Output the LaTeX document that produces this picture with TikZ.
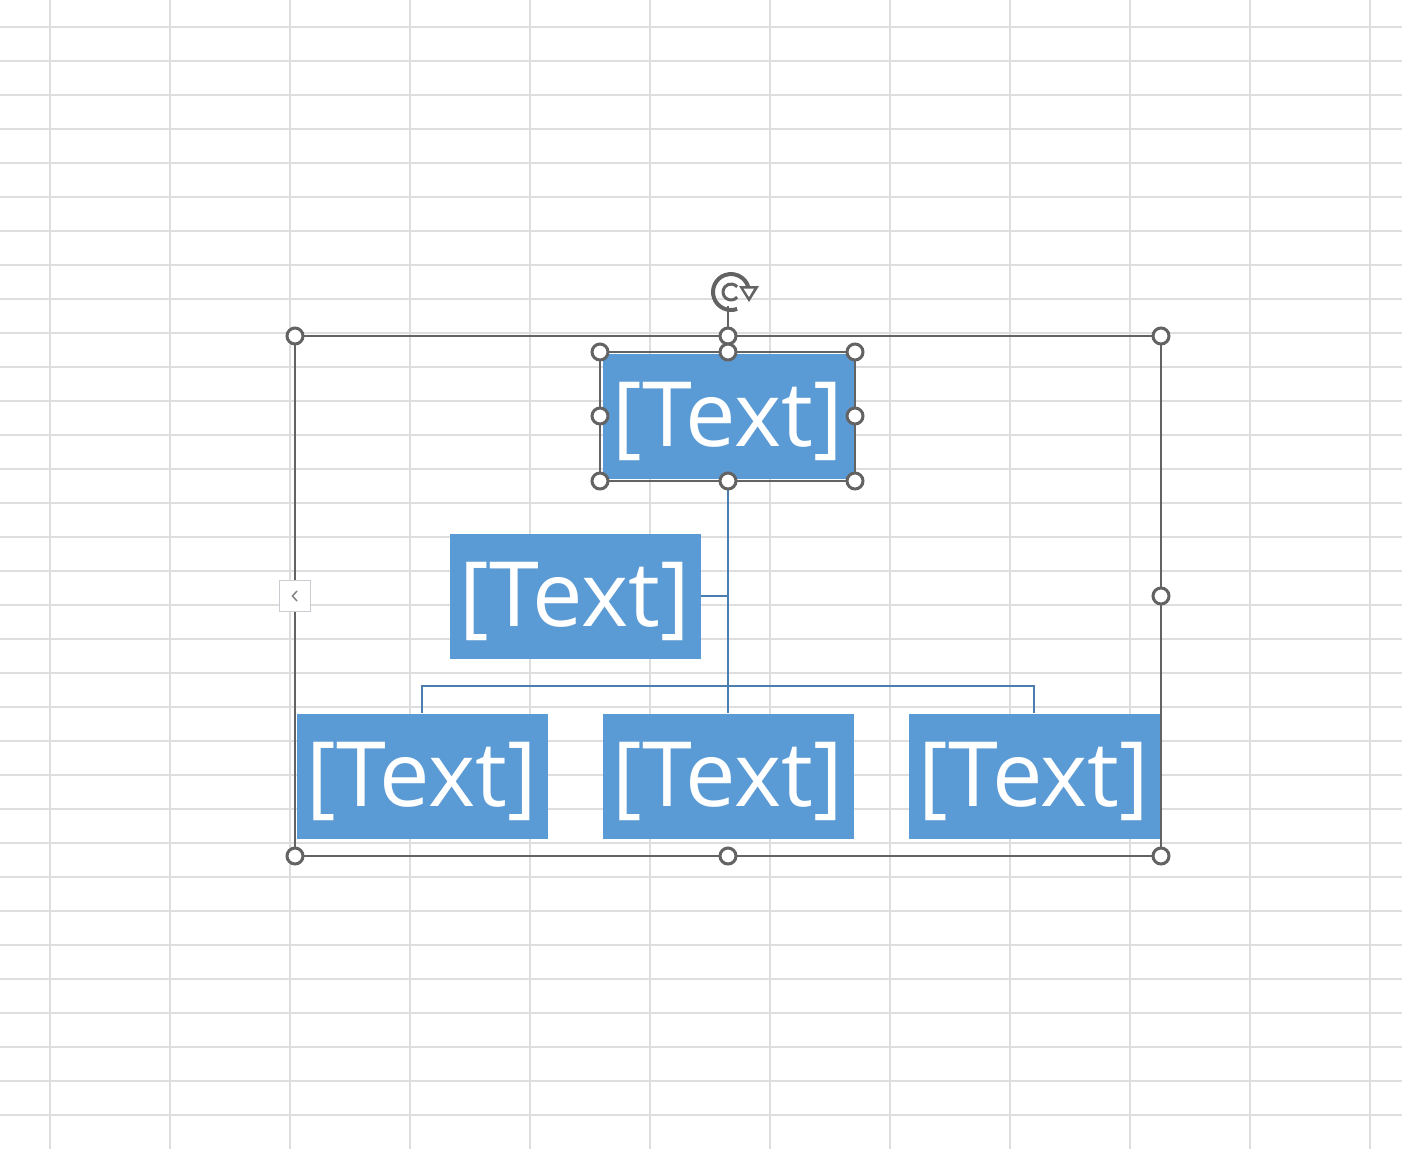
\documentclass[tikz,border=0pt]{standalone}
\usepackage{fontspec}
\setmainfont{Open Sans}
\definecolor{boxblue}{HTML}{5B9BD5}
\definecolor{linkblue}{HTML}{4A7EB0}
\definecolor{gridgray}{HTML}{DEDEDE}
\definecolor{selgray}{HTML}{636363}
\definecolor{btngray}{HTML}{C9CDD2}

\begin{document}
\begin{tikzpicture}[x=1pt,y=-1pt,
    box/.style={fill=boxblue,text=white,inner sep=0pt,minimum width=251pt,minimum height=125pt,text height=76pt,text depth=15.6pt,font=\fontsize{90}{90}\selectfont},
    conn/.style={draw=linkblue,line width=2pt},
    gridline/.style={draw=gridgray,line width=1.5pt},
    handle/.style={draw=selgray,line width=3pt,fill=white,circle,inner sep=0pt,minimum size=16pt}]
                \useasboundingbox (0,0) rectangle (1402,1149);
                % sheet grid
                \foreach \gx in {50,170,...,1370} \draw[gridline] (\gx,0) -- (\gx,1149);
                \foreach \gy in {27,61,...,1115} \draw[gridline] (0,\gy) -- (1402,\gy);

                \node[box] (top) at (728,416) {[Text]};
                \node[box] (asst) at (575,596) {[Text]};
                \node[box] (left) at (422,776) {[Text]};
                \node[box] (mid) at (728,776) {[Text]};
                \node[box] (right) at (1034,776) {[Text]};
                \coordinate (aj) at (728,596);
                \coordinate (bus) at (728,686);

                \path [conn] (top) edge (mid);
                \path [conn] (asst) edge (aj);
                \draw [conn] (left) |- (bus) -| (right);

                % selection frames
                \draw [selgray,line width=2pt] (295,336) rectangle (1161,856);
                \draw [selgray,line width=1.5pt] (600,352) rectangle (855,481);
                \draw [selgray,line width=2pt] (728,306) -- (728,336);

                % expand button
                \node[draw=btngray,fill=white,line width=1.5pt,inner sep=0pt,minimum width=31pt,minimum height=31pt] (btn) at (295,596) {};
                \draw [selgray!80,line width=1.5pt] (297,591) -- (292.5,596) -- (297,601);

                % handles
                \node[handle] (hNW) at (295,336) {};
                \node[handle] (hN) at (728,336) {};
                \node[handle] (hNE) at (1161,336) {};
                \node[handle] (hE) at (1161,596) {};
                \node[handle] (hSE) at (1161,856) {};
                \node[handle] (hS) at (728,856) {};
                \node[handle] (hSW) at (295,856) {};
                \node[handle] (tNW) at (600,352) {};
                \node[handle] (tN) at (728,352) {};
                \node[handle] (tNE) at (855,352) {};
                \node[handle] (tW) at (600,416) {};
                \node[handle] (tE) at (855,416) {};
                \node[handle] (tSW) at (600,481) {};
                \node[handle] (tS) at (728,481) {};
                \node[handle] (tSE) at (855,481) {};

                % rotate handle
                \draw [selgray,line width=4pt] (731,292) ++(70:18) arc[start angle=70,end angle=355,radius=18];
                \draw [selgray,line width=3pt] (731,292) ++(40:8) arc[start angle=40,end angle=320,radius=8];
                \fill [selgray] (739,286) -- (759,286) -- (749,302) -- cycle;
                \fill [white] (743.5,288.5) -- (754,288.5) -- (749,297) -- cycle;
            \end{tikzpicture}
\end{document}
